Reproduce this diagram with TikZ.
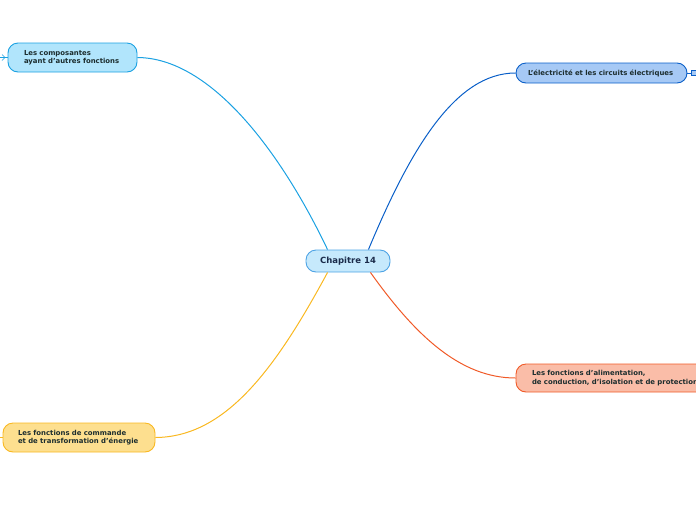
\documentclass[tikz,border=0pt]{standalone}
\usepackage{fontspec}
\setmainfont{DejaVu Sans}
\definecolor{mapcentralfill}{rgb}{0.776,0.914,0.988}
\definecolor{mapcentraldraw}{rgb}{0.302,0.639,0.898}
\definecolor{mapcentraltext}{rgb}{0.106,0.169,0.290}
\definecolor{mapcyanfill}{rgb}{0.694,0.898,0.988}
\definecolor{mapcyandraw}{rgb}{0.106,0.631,0.886}
\definecolor{mapbluefill}{rgb}{0.651,0.788,0.961}
\definecolor{mapbluedraw}{rgb}{0.039,0.373,0.784}
\definecolor{maporangefill}{rgb}{0.980,0.741,0.659}
\definecolor{maporangedraw}{rgb}{0.941,0.353,0.157}
\definecolor{mapyellowfill}{rgb}{0.992,0.875,0.561}
\definecolor{mapyellowdraw}{rgb}{0.976,0.722,0.129}
\definecolor{maptext}{rgb}{0.110,0.176,0.180}

\begin{document}
\begin{tikzpicture}[x=1pt,y=-1pt,
  topicbox/.style={rounded corners=10pt,line width=0.9pt,align=left,
    inner ysep=0pt,font=\fontsize{6.9}{8.2}\selectfont\bfseries,text=maptext},
  centralbox/.style={rounded corners=10pt,line width=0.9pt,inner sep=0pt,
    minimum width=84pt,minimum height=22pt,
    font=\fontsize{8.5}{10}\selectfont\bfseries,text=mapcentraltext,
    fill=mapcentralfill,draw=mapcentraldraw},
  branch/.style={line width=1pt}]
\useasboundingbox (0,0) rectangle (696,520);
\clip (0,0) rectangle (696,520);

\node[centralbox] (chapitre) at (348,261) {Chapitre 14};

\node[topicbox,fill=mapcyanfill,draw=mapcyandraw,minimum height=29pt,
  inner xsep=16pt,text width=97pt] (composantes) at (72.5,57.5)
  {Les composantes\\ayant d'autres fonctions};
\node[topicbox,fill=mapbluefill,draw=mapbluedraw,minimum height=20pt,
  inner xsep=12pt,text width=147pt] (electricite) at (601.5,73)
  {L'électricité et les circuits électriques};
\node[topicbox,fill=maporangefill,draw=maporangedraw,minimum height=28pt,
  inner xsep=16pt,text width=176pt] (alimentation) at (620,378)
  {Les fonctions d'alimentation,\\de conduction, d'isolation et de protection};
\node[topicbox,fill=mapyellowfill,draw=mapyellowdraw,minimum height=29pt,
  inner xsep=15pt,text width=122pt] (commande) at (79,437.5)
  {Les fonctions de commande\\et de transformation d'énergie};

\draw[branch,mapcyandraw] (chapitre.north west) ++(22,0) coordinate (c1)
  .. controls (280,150) and (210,58) .. (composantes.east);
\draw[branch,mapbluedraw] (chapitre.north east) ++(-22,0) coordinate (c2)
  .. controls (410,150) and (455,73) .. (electricite.west);
\draw[branch,maporangedraw] (chapitre.south east) ++(-20,0) coordinate (c3)
  .. controls (415,335) and (460,378) .. (alimentation.west);
\draw[branch,mapyellowdraw] (chapitre.south west) ++(22,0) coordinate (c4)
  .. controls (275,370) and (225,437) .. (commande.east);

\coordinate (stubcomposantes) at (0,57.5);
\coordinate (stubelectricite) at (691,73);
\coordinate (stubcommande) at (0,437.5);
\draw[mapcyandraw,line width=0.8pt] (composantes.west) -- (stubcomposantes);
\draw[mapcyandraw,line width=0.6pt] (2,54.5) -- (5,57.5) -- (2,60.5);
\draw[mapbluedraw,line width=0.8pt] (electricite.east) -- (stubelectricite);
\node[draw=mapbluedraw,fill=mapbluefill,line width=0.6pt,minimum width=6pt,
  minimum height=5pt,inner sep=0pt,anchor=west] (collapse) at (stubelectricite) {};
\draw[mapyellowdraw,line width=0.8pt] (commande.west) -- (stubcommande);
\end{tikzpicture}
\end{document}
